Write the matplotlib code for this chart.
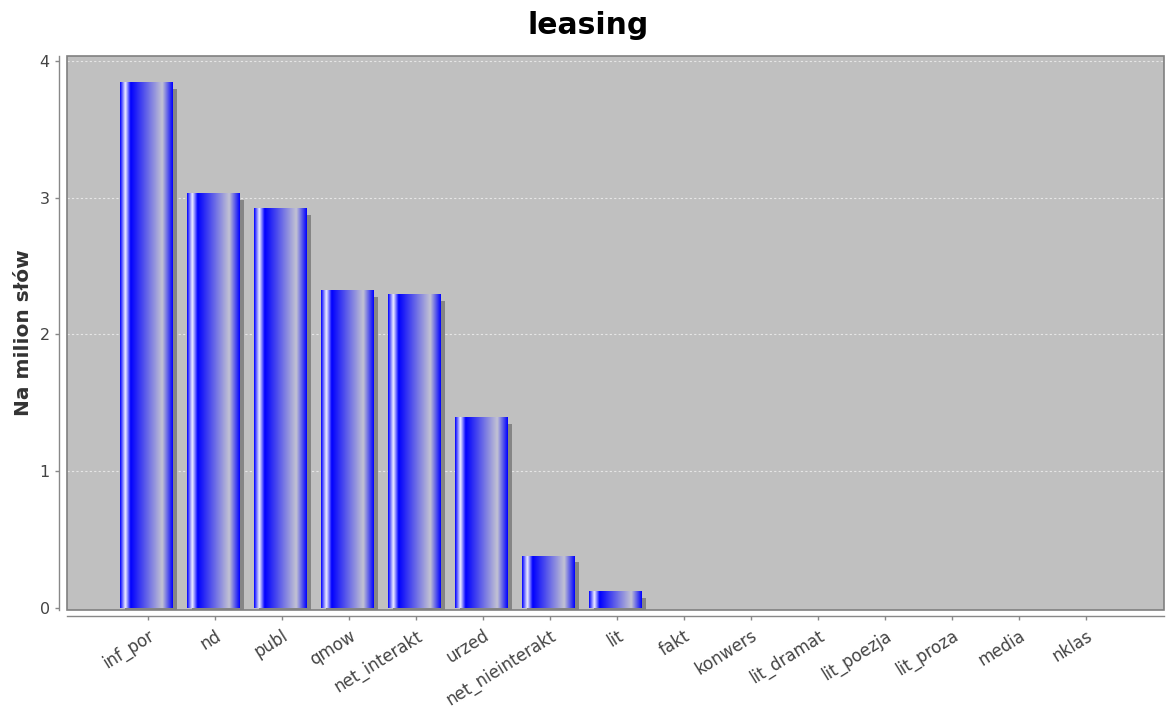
import numpy as np
import matplotlib
matplotlib.use('Agg')
import matplotlib.pyplot as plt
from matplotlib.patches import Rectangle

# dane
kategorie = ['inf_por', 'nd', 'publ', 'qmow', 'net_interakt', 'urzed', 'net_nieinterakt',
             'lit', 'fakt', 'konwers', 'lit_dramat', 'lit_poezja', 'lit_proza', 'media', 'nklas']
wartosci = [3.84, 3.03, 2.92, 2.32, 2.29, 1.39, 0.38, 0.12, 0, 0, 0, 0, 0, 0, 0]
y_ticks = [0, 1, 2, 3, 4]

W, H = 1166, 717


def gradient_bar(n=200):
    # gradient jak w GradientBarPainter (0.10, 0.20, 0.80)
    c0 = np.array([0, 0, 255]) / 255
    c1 = np.array([195, 195, 210]) / 255
    white = np.array([240, 240, 255]) / 255
    t = np.linspace(0, 1, n)
    col = np.zeros((1, n, 3))
    for k, x in enumerate(t):
        if x < 0.10:
            s = x / 0.10
            c = (1 - s) * c0 + s * white
        elif x < 0.20:
            s = (x - 0.10) / 0.10
            c = (1 - s) * white + s * c0
        elif x < 0.80:
            s = (x - 0.20) / 0.60
            c = (1 - s) * c0 + s * c1
        else:
            s = (x - 0.80) / 0.20
            c = (1 - s) * c1 + s * c0
        col[0, k] = c
    return col


fig = plt.figure(figsize=(W / 100, H / 100), dpi=100)
ax = fig.add_axes([67 / W, 1 - 610 / H, (1164 - 67) / W, (610 - 56) / H])
ax.set_facecolor('#c0c0c0')

ymin, ymax = -2 / 136.75, 4 + 5 / 136.75
xmin, xmax = -81 / 67, (1164 - 148) / 67

for yv in y_ticks[1:]:
    ax.axhline(yv, color='#e6e6e6', lw=0.8, ls=(0, (2, 2)), zorder=1)

szer = 0.78
przes = -0.025
dx, dy = 5 / 67, 6 / 136.75
kolor = gradient_bar()
for i, v in enumerate(wartosci):
    if v <= 0:
        continue
    x0 = i + przes - szer / 2
    cien = Rectangle((x0 + dx, ymin), szer, v - dy - ymin,
                     facecolor='#858585', edgecolor='none', zorder=2)
    ax.add_patch(cien)
    ax.imshow(kolor, extent=(x0, x0 + szer, 0, v),
              aspect='auto', zorder=3, interpolation='bilinear')

ax.set_xlim(xmin, xmax)
ax.set_ylim(ymin, ymax)

# ramka obszaru wykresu
ax.add_patch(Rectangle((0, 0), 1, 1, transform=ax.transAxes, fill=False,
                       edgecolor='#808080', lw=1.2, zorder=5, clip_on=False))

for s in ['top', 'right']:
    ax.spines[s].set_visible(False)
ax.spines['left'].set_position(('outward', 6))
ax.spines['bottom'].set_position(('outward', 4))
for s in ['left', 'bottom']:
    ax.spines[s].set_color('#888888')
    ax.spines[s].set_linewidth(1)

ax.set_yticks(y_ticks)
ax.set_yticklabels([str(t) for t in y_ticks])
ax.set_xticks(range(len(kategorie)))
ax.set_xticklabels(kategorie, rotation=32, ha='right', rotation_mode='anchor')
ax.tick_params(axis='both', colors='#888888', labelcolor='#444444', labelsize=11.5,
               length=3, width=1)
ax.tick_params(axis='x', labelsize=12, pad=5)

fig.text(588 / W, 1 - 25 / H, 'leasing', ha='center', va='center',
         fontsize=21.5, fontweight='bold', color='black')
fig.text(24 / W, 1 - 333 / H, 'Na milion słów', ha='center', va='center',
         rotation=90, fontsize=14.5, fontweight='bold', color='#333333')

fig.savefig('out.png', dpi=100, facecolor='white')
